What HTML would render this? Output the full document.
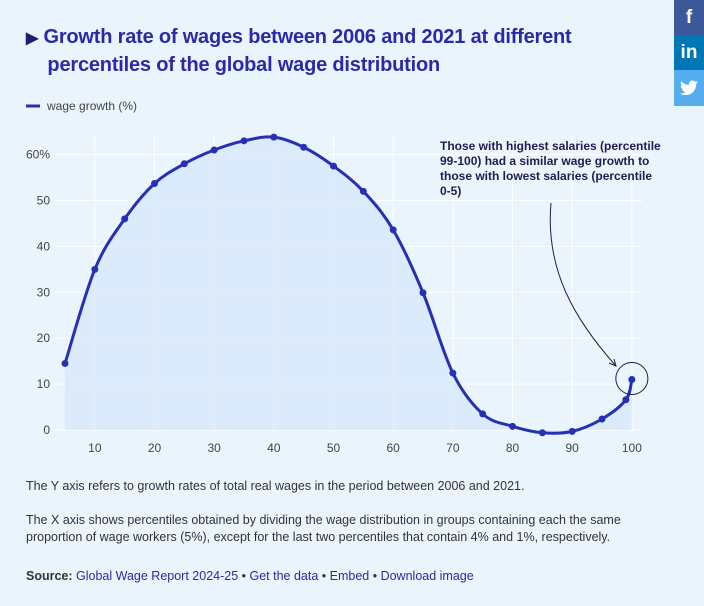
<!DOCTYPE html>
<html><head><meta charset="utf-8"><style>
body{margin:0;width:704px;height:606px;background:#eaf4fd;font-family:"Liberation Sans",sans-serif;overflow:hidden;position:relative}
.t{position:absolute;left:26px;top:24px;font-size:20px;font-weight:bold;color:#2a2aa6;line-height:26px;letter-spacing:-0.2px}
.soc{position:absolute;left:674px;width:30px;height:35px;color:#fff;font-weight:bold;font-size:19px;text-align:center;line-height:35px}
.p{position:absolute;left:26px;font-size:12.5px;color:#333;line-height:17px}
a{color:#2a2aa6}
</style></head><body>
<div class="t"><span style="color:#1e1e6e;font-size:16px">▶</span> Growth rate of wages between 2006 and 2021 at different<br>&nbsp;&nbsp;&nbsp;&nbsp;percentiles of the global wage distribution</div>
<div class="soc" style="top:0;background:#3b5998">f</div>
<div class="soc" style="top:35px;background:#0077b5">in</div>
<div class="soc" style="top:70px;background:#55acee;height:36px"><svg width="18" height="16" viewBox="0 0 24 20" style="margin-top:10px"><path d="M24 2.4c-.9.4-1.8.6-2.8.8 1-.6 1.8-1.6 2.2-2.7-1 .6-2 1-3.1 1.2C19.3.7 18 0 16.6 0c-2.7 0-4.9 2.2-4.9 4.9 0 .4 0 .8.1 1.1C7.7 5.8 4.1 3.9 1.7.9c-.4.7-.7 1.6-.7 2.5 0 1.7.9 3.2 2.2 4.1-.8 0-1.6-.2-2.2-.6v.1c0 2.4 1.7 4.4 3.9 4.8-.4.1-.8.2-1.3.2-.3 0-.6 0-.9-.1.6 2 2.4 3.4 4.6 3.4-1.7 1.3-3.8 2.1-6.1 2.1-.4 0-.8 0-1.2-.1 2.2 1.4 4.8 2.2 7.5 2.2 9.1 0 14-7.5 14-14v-.6c1-.7 1.8-1.6 2.5-2.5z" fill="#fff"/></svg></div>
<svg id="c" width="704" height="470" style="position:absolute;left:0;top:0"></svg>
<div class="p" style="top:478px">The Y axis refers to growth rates of total real wages in the period between 2006 and 2021.</div>
<div class="p" style="top:512px">The X axis shows percentiles obtained by dividing the wage distribution in groups containing each the same<br>proportion of wage workers (5%), except for the last two percentiles that contain 4% and 1%, respectively.</div>
<div class="p" style="top:568px"><b>Source:</b> <a>Global Wage Report 2024-25</a> • <a>Get the data</a> • <a>Embed</a> • <a>Download image</a></div>
<script>
const percentiles=[5,10,15,20,25,30,35,40,45,50,55,60,65,70,75,80,85,90,95,99,100];
const growth=[14.5,35,46,53.7,58,61,63,63.8,61.6,57.5,52,43.6,29.9,12.4,3.5,0.8,-0.6,-0.3,2.4,6.6,11];
const xTicks=[10,20,30,40,50,60,70,80,90,100];
const yTicks=[0,10,20,30,40,50,60];
const X=v=>65+(v-5)*5.967, Y=v=>430-v*4.59;
const s=document.getElementById('c'),NS='http://www.w3.org/2000/svg';
function el(t,a,txt){const e=document.createElementNS(NS,t);for(const k in a)e.setAttribute(k,a[k]);if(txt!=null)e.textContent=txt;s.appendChild(e);return e;}
yTicks.forEach(v=>{const g=el('line',{x1:55,x2:642,y1:Y(v),y2:Y(v),stroke:'#fff','stroke-width':1});

const t=el('text',{x:50,y:Y(v)+4,'text-anchor':'end','font-size':12,fill:'#444','font-family':'Liberation Sans'},v+(v==60?'%':''));
});
xTicks.forEach(v=>{const g=el('line',{x1:X(v),x2:X(v),y1:135,y2:433,stroke:'#fff','stroke-width':1});

const t=el('text',{x:X(v),y:452,'text-anchor':'middle','font-size':12,fill:'#444','font-family':'Liberation Sans'},v);
});
const P=percentiles.map((p,i)=>[X(p),Y(growth[i])]);
let d='M'+P[0];
for(let i=0;i<P.length-1;i++){const p0=P[Math.max(0,i-1)],p1=P[i],p2=P[i+1],p3=P[Math.min(P.length-1,i+2)];
d+=` C${p1[0]+(p2[0]-p0[0])/6},${p1[1]+(p2[1]-p0[1])/6} ${p2[0]-(p3[0]-p1[0])/6},${p2[1]-(p3[1]-p1[1])/6} ${p2[0]},${p2[1]}`;}
const area=el('path',{d:d+` L${P[P.length-1][0]},${Y(0)} L${P[0][0]},${Y(0)} Z`,fill:'#d8e9fa',opacity:0.8});

const line=el('path',{d:d,fill:'none',stroke:'#2530b5','stroke-width':3});

P.forEach(p=>{const c=el('circle',{cx:p[0],cy:p[1],r:3.5,fill:'#2530b5'});
});
const lg=el('line',{x1:26,x2:40,y1:106,y2:106,stroke:'#2530b5','stroke-width':3});

const lt=el('text',{x:47,y:110,'font-size':12,fill:'#444','font-family':'Liberation Sans'},'wage growth (%)');

const an=['Those with highest salaries (percentile','99-100) had a similar wage growth to','those with lowest salaries (percentile','0-5)'];
an.forEach((l,i)=>{const t=el('text',{x:440,y:150+i*15,'font-size':12,'font-weight':'bold',fill:'#1e1e50','font-family':'Liberation Sans'},l);
});
const ar=el('path',{d:'M551,203 C545,270 575,320 616,366',fill:'none',stroke:'#1e1e50','stroke-width':1});

const ah=el('path',{d:'M609,363 L616,366 L614,359',fill:'none',stroke:'#1e1e50','stroke-width':1});

const hc=el('ellipse',{cx:X(100),cy:Y(11)-1,rx:16,ry:16,fill:'none',stroke:'#1e1e50','stroke-width':1});

</script>
</body></html>
